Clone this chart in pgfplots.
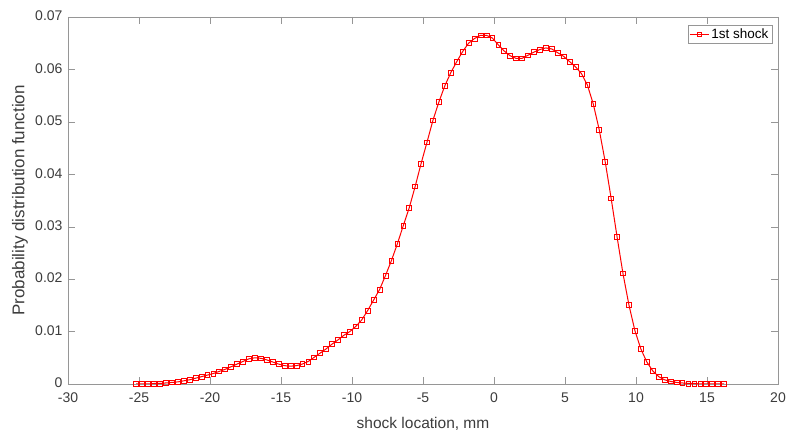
\documentclass[border=0pt]{standalone}
\usepackage{fontspec}
\setmainfont{Liberation Sans}
\usepackage{pgfplots}
\pgfplotsset{compat=1.18}
\definecolor{axisgray}{RGB}{150,150,150}
\definecolor{textgray}{RGB}{60,60,60}

\begin{document}
\begin{tikzpicture}
\useasboundingbox (-68pt,-46pt) rectangle (718pt,384pt);
\begin{axis}[
    scale only axis,
    width=710pt, height=367pt,
    xmin=-30, xmax=20, ymin=0, ymax=0.07,
    xtick distance=5, ytick distance=0.01,
    scaled y ticks=false,
    yticklabel style={/pgf/number format/fixed, /pgf/number format/precision=2, xshift=-2pt, yshift=1pt},
    xticklabel style={yshift=-5pt},
    /pgf/number format/assume math mode=true,
    tick align=inside,
    major tick length=7pt,
    axis line style={draw=axisgray},
    every tick/.style={draw=axisgray},
    tick label style={font=\fontsize{14}{16}\selectfont, text=textgray},
    xlabel={shock location, mm},
    ylabel={Probability distribution function},
    xlabel style={font=\fontsize{15.5}{17}\selectfont, text=textgray,
        at={(axis description cs:0.5,-0.1199)}, anchor=base},
    ylabel style={font=\fontsize{17}{19}\selectfont, text=textgray,
        at={(axis description cs:-0.0676,0.5)}, anchor=center},
    legend style={at={(1,1)}, anchor=north east, xshift=-6pt, yshift=-8pt,
        draw=axisgray, font=\fontsize{13.5}{15}\selectfont, text=black,
        inner sep=1.5pt},
    legend image code/.code={
        \draw[mark repeat=2, mark phase=2, #1] plot coordinates {(0pt,0pt) (9.5pt,0pt) (19pt,0pt)};
    },
]
\addplot[color=red, line width=1pt, mark=square, mark size=2.4pt, mark options={solid, line width=0.7pt}] coordinates {
(-25.20,0.0000) (-24.78,0.0000) (-24.36,0.0000) (-23.95,0.0001) (-23.53,0.0001)
(-23.11,0.0002) (-22.69,0.0003) (-22.27,0.0004) (-21.86,0.0006) (-21.44,0.0008)
(-21.02,0.0011) (-20.60,0.0014) (-20.18,0.0017) (-19.77,0.0020) (-19.35,0.0024)
(-18.93,0.0028) (-18.51,0.0033) (-18.09,0.0038) (-17.68,0.0043) (-17.26,0.0048)
(-16.84,0.0050) (-16.42,0.0049) (-16.00,0.0046) (-15.59,0.0042) (-15.17,0.0038)
(-14.75,0.0035) (-14.33,0.0034) (-13.91,0.0035) (-13.50,0.0038) (-13.08,0.0043)
(-12.66,0.0051) (-12.24,0.0059) (-11.82,0.0067) (-11.41,0.0076) (-10.99,0.0084)
(-10.57,0.0093) (-10.15,0.0100) (-9.73,0.0110) (-9.32,0.0122) (-8.90,0.0140)
(-8.48,0.0160) (-8.06,0.0180) (-7.64,0.0207) (-7.23,0.0235) (-6.81,0.0267)
(-6.39,0.0302) (-5.97,0.0336) (-5.55,0.0377) (-5.14,0.0420) (-4.72,0.0461)
(-4.30,0.0503) (-3.88,0.0538) (-3.46,0.0569) (-3.04,0.0594) (-2.62,0.0615)
(-2.21,0.0634) (-1.79,0.0650) (-1.37,0.0659) (-0.95,0.0665) (-0.53,0.0665)
(-0.12,0.0660) (0.30,0.0647) (0.72,0.0635) (1.14,0.0626) (1.56,0.0621)
(1.97,0.0621) (2.39,0.0627) (2.81,0.0633) (3.23,0.0638) (3.65,0.0641)
(4.07,0.0639) (4.48,0.0632) (4.90,0.0625) (5.32,0.0615) (5.74,0.0605)
(6.16,0.0592) (6.58,0.0570) (6.99,0.0534) (7.41,0.0485) (7.83,0.0424)
(8.25,0.0354) (8.67,0.0280) (9.08,0.0211) (9.50,0.0151) (9.92,0.0102)
(10.34,0.0067) (10.76,0.0042) (11.18,0.0025) (11.60,0.0014) (12.01,0.0008)
(12.43,0.0005) (12.85,0.0003) (13.27,0.0002) (13.69,0.0001) (14.11,0.0001)
(14.53,0.0000) (14.94,0.0000) (15.36,0.0000) (15.78,0.0000) (16.20,0.0000)
};
\addlegendentry{1st shock}
\end{axis}
\end{tikzpicture}
\end{document}
